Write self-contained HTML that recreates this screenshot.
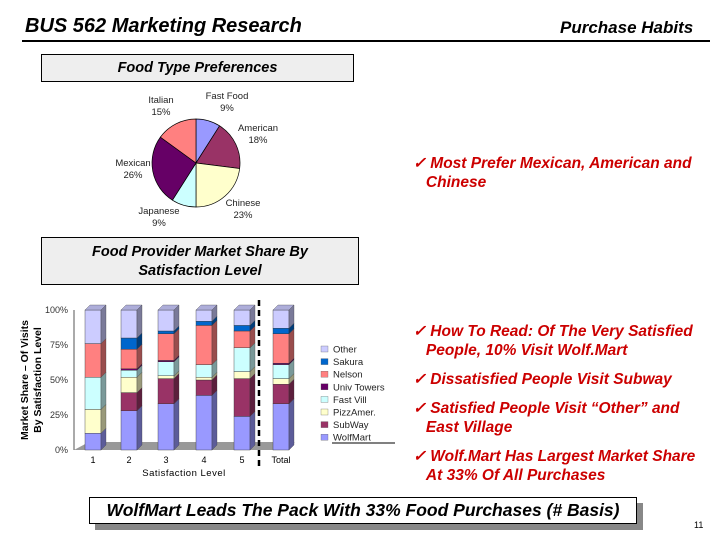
<!DOCTYPE html>
<html><head><meta charset="utf-8">
<style>
body{margin:0;background:#fff;font-family:"Liberation Sans",sans-serif;}
#page{position:relative;width:720px;height:540px;overflow:hidden;background:#fff;}
.abs{position:absolute;}
.red{color:#cc0000;font-weight:bold;font-style:italic;font-size:15.5px;line-height:19px;white-space:nowrap;}
</style></head><body>
<div id="page">
<div class="abs" style="left:25px;top:15px;font-size:20px;font-weight:bold;font-style:italic;">BUS 562 Marketing Research</div>
<div class="abs" style="left:560px;top:18px;font-size:17px;font-weight:bold;font-style:italic;">Purchase Habits</div>
<div class="abs" style="left:22px;top:40px;width:688px;height:2px;background:#000;"></div>

<div class="abs" style="left:41px;top:54px;width:311px;height:26px;background:#eee;border:1px solid #000;font-size:14.5px;font-weight:bold;font-style:italic;text-align:center;line-height:26px;">Food Type Preferences</div>

<div class="abs" style="left:41px;top:237px;width:318px;height:48px;background:#eee;border:1px solid #000;font-size:14.5px;font-weight:bold;font-style:italic;text-align:center;line-height:19px;padding-top:5px;box-sizing:border-box;">Food Provider Market Share By<br>Satisfaction Level</div>

<svg class="abs" style="left:0;top:0" width="720" height="540" id="charts"></svg>

<div class="abs red" style="left:413px;top:154px;">✓ Most Prefer Mexican, American and<br>&nbsp;&nbsp;&nbsp;Chinese</div>
<div class="abs red" style="left:413px;top:322px;">✓ How To Read: Of The Very Satisfied<br>&nbsp;&nbsp;&nbsp;People, 10% Visit Wolf.Mart</div>
<div class="abs red" style="left:413px;top:370px;">✓ Dissatisfied People Visit Subway</div>
<div class="abs red" style="left:413px;top:399px;">✓ Satisfied People Visit “Other” and<br>&nbsp;&nbsp;&nbsp;East Village</div>
<div class="abs red" style="left:413px;top:447px;">✓ Wolf.Mart Has Largest Market Share<br>&nbsp;&nbsp;&nbsp;At 33% Of All Purchases</div>

<div class="abs" style="left:95px;top:503px;width:548px;height:27px;background:#888;"></div>
<div class="abs" style="left:89px;top:497px;width:548px;height:27px;background:#fff;border:1px solid #000;box-sizing:border-box;font-size:17.5px;font-weight:bold;font-style:italic;text-align:center;line-height:25px;white-space:nowrap;">WolfMart Leads The Pack With 33% Food Purchases (# Basis)</div>
<div class="abs" style="left:694px;top:520px;font-size:9px;">11</div>
</div>
<script>
// Pie data
const pieLabels=["Fast Food","American","Chinese","Japanese","Mexican","Italian"];
const pieValues=[9,18,23,9,26,15];
const pieColors=["#9999ff","#993366","#ffffcc","#ccffff","#660066","#ff8080"];
// Bar data
const barCats=["1","2","3","4","5","Total"];
const seriesNames=["WolfMart","SubWay","PizzAmer.","Fast Vill","Univ Towers","Nelson","Sakura","Other"];
const seriesColors=["#9999ff","#993366","#ffffcc","#ccffff","#660066","#ff8080","#0066cc","#ccccff"];
const wolfmart=[12,28,33,39,24,33];
const subway=[0,13,18,11,27,14];
const pizzamer=[17,11,2,2,5,4];
const fastvill=[23,5,10,9,17,10];
const univtowers=[0,1,1,0,0,1];
const nelson=[24,14,19,28,12,21];
const sakura=[0,8,2,3,4,4];
const other=[24,20,15,8,11,13];
const yTicks=["0%","25%","50%","75%","100%"];
const series=[wolfmart,subway,pizzamer,fastvill,univtowers,nelson,sakura,other];

const NS="http://www.w3.org/2000/svg";
const svg=document.getElementById('charts');
function mk(tag,attrs,parent){const e=document.createElementNS(NS,tag);for(const k in attrs)e.setAttribute(k,attrs[k]);(parent||svg).appendChild(e);return e;}
function shade(hex,f){const n=parseInt(hex.slice(1),16);let r=n>>16,g=(n>>8)&255,b=n&255;return `rgb(${Math.round(r*f)},${Math.round(g*f)},${Math.round(b*f)})`;}

// Pie
const cx=196,cy=163,R=44;
const tot=pieValues.reduce((a,b)=>a+b,0);
let a0=-Math.PI/2;
const labelPos=[[227,99],[258,131],[243,206],[159,214],[133,166],[161,103]];
pieValues.forEach((v,i)=>{
  const a1=a0+v/tot*2*Math.PI;
  const x0=cx+R*Math.cos(a0),y0=cy+R*Math.sin(a0),x1=cx+R*Math.cos(a1),y1=cy+R*Math.sin(a1);
  const p=mk('path',{d:`M${cx},${cy}L${x0},${y0}A${R},${R} 0 ${a1-a0>Math.PI?1:0} 1 ${x1},${y1}Z`,fill:pieColors[i],stroke:'#000','stroke-width':0.7});
  
  
  const [lx,ly]=labelPos[i];
  const t=mk('text',{x:lx,y:ly,'font-size':9.5,'text-anchor':'middle',fill:'#222'});
  
  
  mk('tspan',{x:lx,dy:0},t).textContent=pieLabels[i];
  mk('tspan',{x:lx,dy:12},t).textContent=v+'%';
  a0=a1;
});

// Bar chart axes
const y0px=450,y100=310;
function yS(v){return y0px-(v/100)*(y0px-y100);}
const xC=[93,129,166,204,242,281];
function xS(i){return xC[i];}
const floor=mk('polygon',{points:`74,${y0px} 280,${y0px} 295,${y0px-8} 89,${y0px-8}`,fill:'#999'});


const ax=mk('line',{x1:74,y1:y100,x2:74,y2:y0px,stroke:'#555','stroke-width':1});


yTicks.forEach((t,i)=>{
  const y=yS(i*25);
  const tx=mk('text',{x:68,y:y+3,'font-size':9,'text-anchor':'end',fill:'#333'});
  tx.textContent=t;
  
  
});
const yt=mk('text',{transform:'translate(28,380) rotate(-90)','font-size':10.5,'font-weight':'bold','text-anchor':'middle'});


mk('tspan',{x:0,dy:0},yt).textContent='Market Share – Of Visits';
mk('tspan',{x:0,dy:13},yt).textContent='By Satisfaction Level';

const bw=16,dp=5;
barCats.forEach((c,i)=>{
  let acc=0;
  const x=xS(i)-bw/2;
  series.forEach((s,k)=>{
    const v=s[i]; if(v<=0)return;
    const yt=yS(acc+v),yb=yS(acc);
    const r=mk('rect',{x:x,y:yt,width:bw,height:yb-yt,fill:seriesColors[k],stroke:'#333','stroke-width':0.4});
    
    
    const sd=mk('polygon',{points:`${x+bw},${yb} ${x+bw+dp},${yb-dp} ${x+bw+dp},${yt-dp} ${x+bw},${yt}`,fill:shade(seriesColors[k],0.6),stroke:'#333','stroke-width':0.3});
    
    
    acc+=v;
  });
  const top=yS(acc);
  const tp=mk('polygon',{points:`${x},${top} ${x+dp},${top-dp} ${x+bw+dp},${top-dp} ${x+bw},${top}`,fill:shade(seriesColors[7],0.85),stroke:'#333','stroke-width':0.3});
  
  
  const lb=mk('text',{x:xS(i),y:463,'font-size':9,'text-anchor':'middle'});
  lb.textContent=c;
  
  
});
const xt=mk('text',{x:184,y:476,'font-size':9.5,'text-anchor':'middle','letter-spacing':'0.5'});
xt.textContent='Satisfaction Level';


const dl=mk('line',{x1:259,y1:300,x2:259,y2:467,stroke:'#000','stroke-width':2.5,'stroke-dasharray':'6,4'});



// Legend
for(let k=7;k>=0;k--){
  const y=349+(7-k)*12.6;
  const sw=mk('rect',{x:321,y:y-3,width:7,height:6,fill:seriesColors[k],stroke:'#555','stroke-width':0.3});
  
  
  const t=mk('text',{x:333,y:y+3.5,'font-size':9.5,fill:'#222'});
  t.textContent=seriesNames[k];
  
  
}
const lu=mk('line',{x1:332,y1:443,x2:395,y2:443,stroke:'#000','stroke-width':1});


</script>
</body></html>
